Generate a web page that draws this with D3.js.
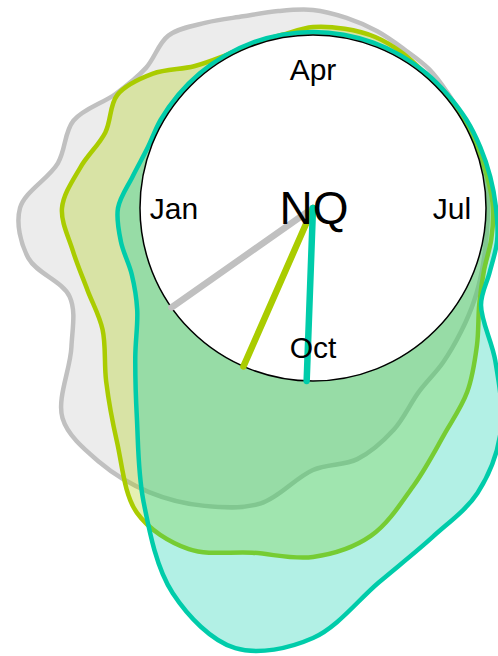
<!DOCTYPE html>
<html>
<head>
<meta charset="utf-8">
<script src="https://cdn.jsdelivr.net/npm/d3@7"></script>
<style>
  html, body { margin: 0; padding: 0; background: #fff; }
  svg { display: block; }
</style>
</head>
<body>
<svg id="chart" width="498" height="656"></svg>
<script>
// ---- data ----
const monthNames = ["Jan","Feb","Mar","Apr","May","Jun","Jul","Aug","Sep","Oct","Nov","Dec"];
const dekads = monthNames.flatMap(m => [m + " 1", m + " 2", m + " 3"]);
const axisLabels = ["Jan", "Apr", "Jul", "Oct"];
const axisLabelMonths = [0, 3, 6, 9];
const title = "NQ";
const seriesNames = ["A", "B", "C"];
const seriesColors = ["#c0c0c0", "#aacc00", "#00ccaa"];
// values per dekad, starting with Jan 1
const seriesA = [120, 86, 82, 55, 45, 52, 41, 31, 27, 25, 20, 15, 10, 8, 4, 2, 2, 2, 2, 3, 7, 13, 20, 29, 39, 63, 82, 89, 127, 144, 155, 159, 154, 106, 86, 116];
const seriesB = [78, 63, 48, 53, 36, 12, 3, 2, 3, 8, 9, 9, 6, 2, 1, 1, 2, 4, 7, 8, 9, 19, 41, 67, 89, 122, 160, 176, 177, 190, 179, 132, 97, 70, 67, 71];
const seriesC = [22, 10, 3, 3, 3, 3, 3, 3, 3, 3, 3, 3, 3, 3, 3, 4, 5, 7, 10, 14, 15, 21, 65, 119, 156, 177, 207, 257, 274, 237, 166, 101, 59, 30, 20, 22];
// mean timing (fractional month, 0 = start of Jan)
const meanMonth = [10.83, 9.79, 9.07];

// ---- layout ----
const W = 498, H = 656;
const cx = 313, cy = 208;
const r0 = 173;

const svg = d3.select("#chart");
const g = svg.append("g").attr("transform", `translate(${cx},${cy})`);

const angle = d3.scaleLinear().domain([0, 12]).range([-Math.PI / 2, 3 * Math.PI / 2]);
const radius = d3.scaleLinear().domain([0, 100]).range([r0, r0 + 100]);

const allSeries = [seriesA, seriesB, seriesC];

const line = d3.lineRadial()
  .angle((d, i) => angle(i / 3))
  .radius(d => radius(d))
  .curve(d3.curveCatmullRomClosed.alpha(0.5));

allSeries.forEach((vals, k) => {
  g.append("path")
    .datum(vals)
    .attr("d", line)
    .attr("fill", seriesColors[k])
    .attr("fill-opacity", 0.3)
    .attr("stroke", seriesColors[k])
    .attr("stroke-width", 4.5)
    .attr("stroke-linejoin", "round");
});

g.append("circle")
  .attr("r", r0)
  .attr("fill", "#fff")
  .attr("stroke", "#000")
  .attr("stroke-width", 1.5);

meanMonth.forEach((m, k) => {
  const a = angle(m);
  g.append("line")
    .attr("x1", 0).attr("y1", 0)
    .attr("x2", r0 * Math.sin(a))
    .attr("y2", -r0 * Math.cos(a))
    .attr("stroke", seriesColors[k])
    .attr("stroke-width", 6.5)
    .attr("stroke-linecap", "round");
});

const labelR = 139;
axisLabels.forEach((lab, i) => {
  const a = angle(axisLabelMonths[i]);
  g.append("text")
    .attr("x", labelR * Math.sin(a))
    .attr("y", -labelR * Math.cos(a))
    .attr("text-anchor", "middle")
    .attr("dominant-baseline", "central")
    .attr("font-family", "Liberation Sans, Arial, sans-serif")
    .attr("font-size", 30)
    .attr("fill", "#000")
    .text(lab);
});

g.append("text")
  .attr("x", 1)
  .attr("y", 0)
  .attr("text-anchor", "middle")
  .attr("dominant-baseline", "central")
  .attr("font-family", "Liberation Sans, Arial, sans-serif")
  .attr("font-size", 46)
  .attr("fill", "#000")
  .text(title);
</script>
</body>
</html>
